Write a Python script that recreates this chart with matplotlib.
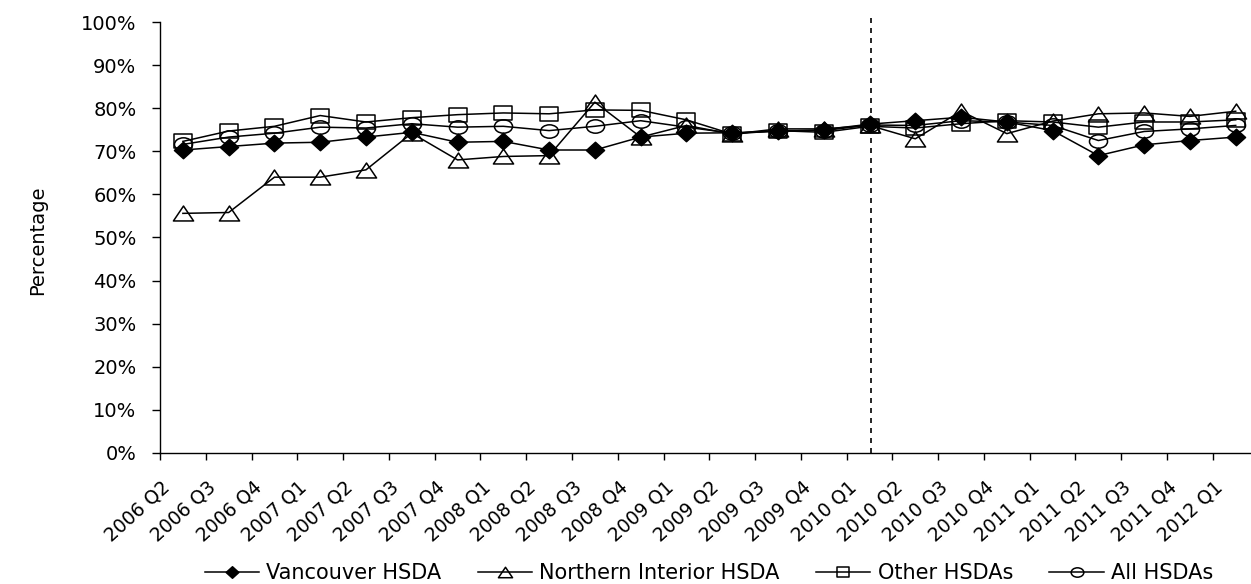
import numpy as np
import matplotlib
matplotlib.use('Agg')
import matplotlib.pyplot as plt
from matplotlib.path import Path
from matplotlib.transforms import Affine2D, ScaledTranslation
from matplotlib.ticker import FixedLocator, FuncFormatter


# Дані (відсотки)
quarters = ['2006 Q2', '2006 Q3', '2006 Q4',
            '2007 Q1', '2007 Q2', '2007 Q3', '2007 Q4',
            '2008 Q1', '2008 Q2', '2008 Q3', '2008 Q4',
            '2009 Q1', '2009 Q2', '2009 Q3', '2009 Q4',
            '2010 Q1', '2010 Q2', '2010 Q3', '2010 Q4',
            '2011 Q1', '2011 Q2', '2011 Q3', '2011 Q4',
            '2012 Q1']

vancouver = [70.3, 71.1, 71.9, 72.1, 73.3, 74.4, 72.1, 72.3, 70.3, 70.3, 73.3, 74.2,
             74.3, 74.6, 75.0, 76.3, 77.1, 77.9, 76.8, 74.8, 69.0, 71.5, 72.5, 73.3]
northern = [55.6, 55.8, 64.0, 64.0, 65.7, 74.2, 68.0, 68.8, 69.0, 81.4, 73.3, 76.0,
            74.0, 75.2, 75.2, 76.0, 72.9, 79.3, 74.1, 77.0, 78.7, 78.9, 78.1, 79.3]
other = [72.3, 74.7, 75.8, 78.3, 76.8, 77.8, 78.5, 78.9, 78.7, 79.6, 79.5, 77.3,
         74.0, 74.8, 74.4, 75.8, 75.4, 76.4, 77.1, 76.8, 75.6, 76.8, 76.8, 77.3]
all_hsda = [71.6, 73.3, 74.2, 75.6, 75.4, 76.4, 75.6, 75.8, 74.8, 75.8, 77.1, 75.6,
            74.2, 74.8, 74.8, 76.1, 76.0, 77.1, 76.8, 76.0, 72.5, 74.6, 75.2, 76.0]

series_names = ['Vancouver HSDA', 'Northern Interior HSDA', 'Other HSDAs', 'All HSDAs']
cutover = '2010 Q1'


# Розтягнуті по горизонталі маркери (як у референсі)
def stretched(path, sx):
    return Affine2D().scale(sx, 1.0).transform_path(path)


diamond = stretched(Path([(0, 1), (1, 0), (0, -1), (-1, 0), (0, 1)], closed=True), 1.1)
triangle = stretched(Path([(0, 1), (1, -1), (-1, -1), (0, 1)], closed=True), 1.35)
square = stretched(Path([(-1, -1), (1, -1), (1, 1), (-1, 1), (-1, -1)], closed=True), 1.25)
ellipse = stretched(Path.unit_circle(), 1.35)

plt.rcParams['font.family'] = ['DejaVu Sans']

fig = plt.figure(figsize=(12.51, 5.84), dpi=100)
W, H = 1251, 584
ax = fig.add_axes([160 / W, 131 / H, 1098.6 / W, 431 / H])

x = np.arange(len(quarters))

styles = [
    (vancouver, diamond, 'black', 13),
    (northern, triangle, 'none', 14.5),
    (other, square, 'none', 13),
    (all_hsda, ellipse, 'none', 13),
]

for (vals, mk, fc, ms), name in zip(styles, series_names):
    ax.plot(x, vals, color='black', lw=1.1, marker=mk, ms=ms,
            markerfacecolor=fc, markeredgecolor='black', markeredgewidth=1.1,
            label=name)

# Вертикальна пунктирна лінія
xc = quarters.index(cutover) + 0.04
ax.plot([xc, xc], [0, 101.5], color='black', lw=1.2,
        linestyle=(0, (3, 3)), clip_on=False)

ax.set_xlim(-0.5, len(quarters) - 0.5)
ax.set_ylim(0, 100)

ax.spines['top'].set_visible(False)
ax.spines['right'].set_visible(False)
for s in ['left', 'bottom']:
    ax.spines[s].set_linewidth(1.0)

ax.set_yticks(np.arange(0, 101, 10))
ax.yaxis.set_major_formatter(FuncFormatter(lambda v, p: '%d%%' % v))
ax.tick_params(axis='y', length=6, width=1.0, pad=11, labelsize=14)

ax.set_xticks(x)
ax.set_xticklabels(quarters)
ax.xaxis.set_minor_locator(FixedLocator(np.arange(-0.5, len(quarters), 1.0)))
ax.tick_params(axis='x', which='major', length=0, labelsize=13.5)
ax.tick_params(axis='x', which='minor', length=5, width=1.0)

offset = ScaledTranslation(-22 / 100, -20 / 100, fig.dpi_scale_trans)
for lab in ax.get_xticklabels():
    lab.set_rotation(42)
    lab.set_ha('right')
    lab.set_va('top')
    lab.set_rotation_mode('anchor')
    lab.set_transform(lab.get_transform() + offset)

fig.text(38 / W, 1 - 240 / H, 'Percentage', rotation=90, ha='center', va='center',
         fontsize=14, family=['Liberation Sans Narrow', 'DejaVu Sans'])

fig.legend(loc='center', bbox_to_anchor=(709 / W, 11 / H), ncol=4, frameon=False,
           fontsize=15, handlelength=2.6, handletextpad=0.35, columnspacing=1.75,
           markerscale=0.7, borderpad=0)

fig.savefig('out.png', dpi=100)
